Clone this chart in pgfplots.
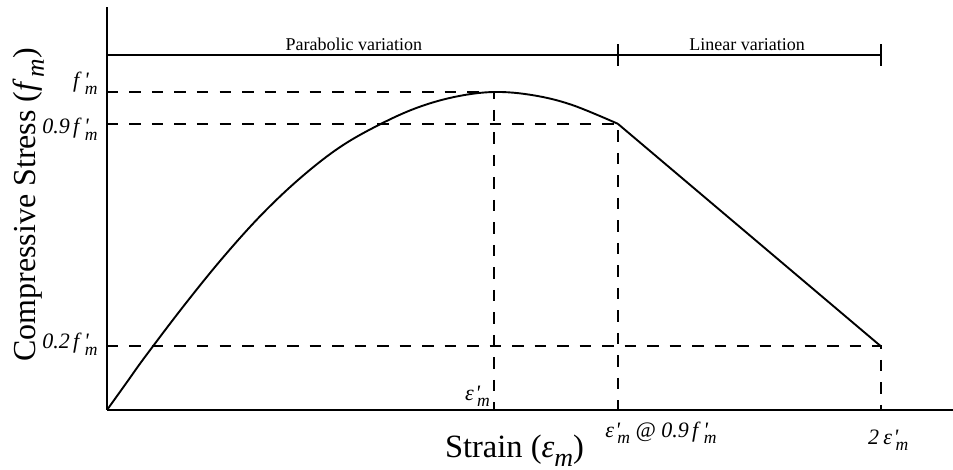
\documentclass[border=0pt]{standalone}
\usepackage{pgfplots}
\pgfplotsset{compat=1.18}
\usepackage{fontspec}
\setmainfont{Liberation Serif}

% subscript and primed symbols in text italic
\newcommand{\sub}[1]{\raisebox{-0.28em}{\scalebox{0.8}{#1}}}
\newcommand{\pr}{\rlap{\kern0.05em\textit{\textquotesingle}}}
\newcommand{\fm}{\textit{f}\kern0.06em\pr\kern0.08em\sub{\textit{m}}}
\newcommand{\epm}{\textit{ε}\kern0.02em\pr\kern0.14em\sub{\textit{m}}}
\newcommand{\fsz}[1]{\fontsize{#1}{#1}\selectfont}

\begin{document}
\begin{tikzpicture}
\useasboundingbox (-107pt,-60pt) rectangle (846pt,410pt);
\begin{axis}[
  scale only axis,
  width=846pt, height=403pt,
  xmin=0, xmax=2.186,
  ymin=0, ymax=1.2673,
  axis lines=left,
  axis line style={-, line width=1.9pt},
  xtick=\empty, ytick=\empty,
  clip=false,
  dashline/.style={black, line width=1.8pt, dash pattern=on 11.5pt off 11pt},
  solidline/.style={black, line width=1.9pt},
]
% ascending (parabolic) branch
\addplot[solidline, smooth, tension=0.6] coordinates {
  (0,0) (0.05,0.085) (0.1,0.17) (0.2,0.33) (0.3,0.48) (0.4,0.615)
  (0.5,0.73) (0.6,0.825) (0.7,0.895) (0.8,0.95) (0.9,0.985) (1.0,1.0)
  (1.1,0.99) (1.2,0.96) (1.32,0.9)
};
% descending (linear) branch
\addplot[solidline] coordinates {(1.32,0.9) (2.0,0.2)};

% reference levels
\addplot[dashline] coordinates {(0,1.0) (1.0,1.0) (1.0,0)};
\addplot[dashline] coordinates {(0,0.9) (1.32,0.9) (1.32,0)};
\addplot[dashline] coordinates {(0,0.2) (2.0,0.2) (2.0,0)};

% range bar above the curve
\addplot[solidline] coordinates {(0,1.116) (2.0,1.116)};
\addplot[solidline] coordinates {(1.32,1.082) (1.32,1.150)};
\addplot[solidline] coordinates {(2.0,1.082) (2.0,1.150)};

\node[anchor=base, font=\fsz{18}] at (axis cs:0.638,1.132) {Parabolic variation};
\node[anchor=base, font=\fsz{18}] at (axis cs:1.654,1.132) {Linear variation};

% stress levels
\node[anchor=base east, inner sep=0pt, font=\fsz{22}] at (axis cs:-0.024,1.0126) {\fm};
\node[anchor=base east, inner sep=0pt, font=\fsz{22}] at (axis cs:-0.024,0.868) {\textit{0.9}\kern0.15em\fm};
\node[anchor=base east, inner sep=0pt, font=\fsz{22}] at (axis cs:-0.024,0.192) {\textit{0.2}\kern0.15em\fm};

% strain levels
\node[anchor=base east, inner sep=0pt, font=\fsz{22}] at (axis cs:0.990,0.031) {\epm};
\node[anchor=base west, inner sep=0pt, font=\fsz{22}] at (axis cs:1.287,-0.085) {\epm\ \textit{@ 0.9}\kern0.15em\fm};
\node[anchor=base west, inner sep=0pt, font=\fsz{22}] at (axis cs:1.966,-0.107) {\textit{2}\kern0.2em\epm};

% axis titles
\node[anchor=base west, inner sep=0pt, font=\fsz{32.5}] at (axis cs:0.873,-0.148)
  {Strain (\textit{ε}\sub{\textit{m}})};
\node[anchor=base west, inner sep=0pt, rotate=90, font=\fsz{32}] at (axis cs:-0.186,0.151)
  {Compressive Stress (\textit{f}\kern0.05em\sub{\textit{m}})};
\end{axis}
\end{tikzpicture}
\end{document}
